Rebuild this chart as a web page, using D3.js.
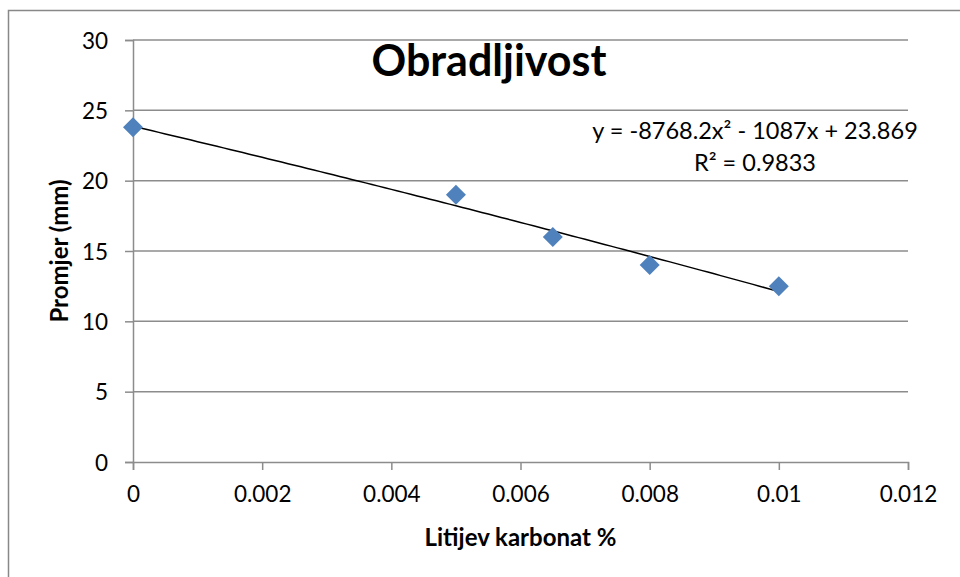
<!DOCTYPE html>
<html>
<head>
<meta charset="utf-8">
<script src="https://cdn.jsdelivr.net/npm/d3@7"></script>
<style>
  body { margin: 0; background: #fff; }
  text { font-family: Lato, "Open Sans", sans-serif; fill: #000; }
</style>
</head>
<body>
<svg id="chart" width="960" height="577"></svg>
<script>
// Data
const xValues = [0, 0.005, 0.0065, 0.008, 0.01];
const yValues = [23.8, 19, 16, 14, 12.5];
const xTicks = [0, 0.002, 0.004, 0.006, 0.008, 0.01, 0.012];
const yTicks = [0, 5, 10, 15, 20, 25, 30];
// Polynomial trendline coefficients (a x^2 + b x + c)
const trendCoef = [-8768.2, -1087, 23.869];
const trendLabel = ['y = -8768.2x² - 1087x + 23.869', 'R² = 0.9833'];

const margin = { left: 133, top: 40, right: 52, bottom: 115 };
const width = 960, height = 577;
const GRID = '#8c8c8c';

const svg = d3.select('#chart');

// Outer chart border
svg.append('rect')
  .attr('x', 8.5).attr('y', 10.5)
  .attr('width', 1000).attr('height', 1000)
  .attr('fill', 'none').attr('stroke', '#888').attr('stroke-width', 1.5);

const x = d3.scaleLinear().domain([0, 0.012]).range([margin.left, width - margin.right]);
const y = d3.scaleLinear().domain([0, 30]).range([height - margin.bottom, margin.top]);

// Horizontal gridlines
svg.append('g')
  .selectAll('line')
  .data(yTicks.slice(1))
  .join('line')
  .attr('x1', x(0)).attr('x2', x(0.012))
  .attr('y1', d => y(d)).attr('y2', d => y(d))
  .attr('stroke', GRID).attr('stroke-width', 1.5);

// Axes
const xAxis = svg.append('g')
  .attr('transform', `translate(0,${y(0)})`)
  .call(d3.axisBottom(x).tickValues(xTicks).tickSize(8).tickPadding(16)
    .tickFormat(d => String(+d.toFixed(3))));
const yAxis = svg.append('g')
  .attr('transform', `translate(${x(0)},0)`)
  .call(d3.axisLeft(y).tickValues(yTicks).tickSize(8).tickPadding(17));

[xAxis, yAxis].forEach(g => {
  g.select('.domain').attr('stroke', GRID).attr('stroke-width', 1.5);
  g.selectAll('.tick line').attr('stroke', GRID).attr('stroke-width', 1.5);
  g.selectAll('.tick text').attr('font-size', 22.5).attr('font-family', 'Lato').attr('fill', '#000');
});
yAxis.selectAll('.tick text').attr('dy', '0.36em');

// Trendline
const trend = d3.range(0, 101).map(i => {
  const xv = 0.01 * i / 100;
  return [xv, trendCoef[0] * xv * xv + trendCoef[1] * xv + trendCoef[2]];
});
svg.append('path')
  .datum(trend)
  .attr('fill', 'none')
  .attr('stroke', '#000')
  .attr('stroke-width', 1.5)
  .attr('d', d3.line().x(d => x(d[0])).y(d => y(d[1])));

// Markers
svg.append('g')
  .selectAll('path')
  .data(xValues.map((v, i) => [v, yValues[i]]))
  .join('path')
  .attr('d', d3.symbol(d3.symbolSquare, 200))
  .attr('transform', d => `translate(${x(d[0])},${y(d[1])}) rotate(45)`)
  .attr('fill', '#4f81bd');

// Title
svg.append('text')
  .attr('x', 489).attr('y', 76)
  .attr('text-anchor', 'middle')
  .attr('font-size', 43).attr('font-weight', 'bold')
  .text('Obradljivost');

// Trendline label
svg.append('g')
  .selectAll('text')
  .data(trendLabel)
  .join('text')
  .attr('x', 755).attr('y', (d, i) => 139 + i * 32)
  .attr('text-anchor', 'middle')
  .attr('font-size', 23.5)
  .text(d => d);

// Axis titles
svg.append('text')
  .attr('x', (x(0) + x(0.012)) / 2).attr('y', 546)
  .attr('text-anchor', 'middle')
  .attr('font-size', 24).attr('font-weight', 'bold')
  .text('Litijev karbonat %');
svg.append('text')
  .attr('transform', `translate(68,${(y(0) + y(30)) / 2}) rotate(-90)`)
  .attr('text-anchor', 'middle')
  .attr('font-size', 24).attr('font-weight', 'bold')
  .text('Promjer (mm)');
</script>
</body>
</html>
